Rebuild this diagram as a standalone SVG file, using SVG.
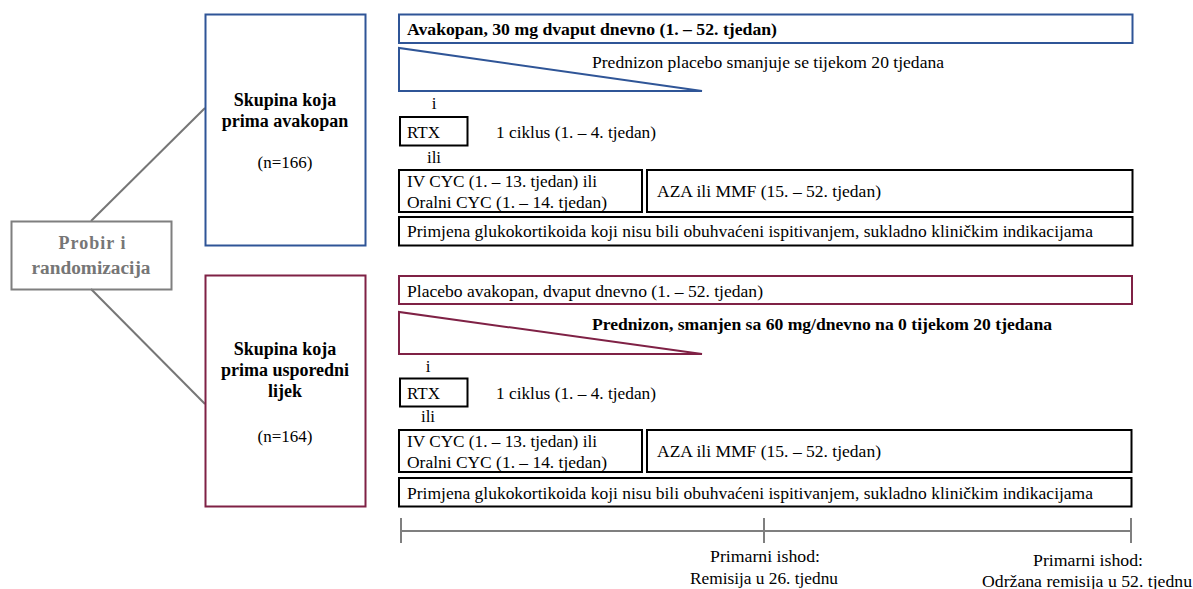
<svg xmlns="http://www.w3.org/2000/svg" width="1193" height="589" viewBox="0 0 1193 589" font-family="'Liberation Serif', 'DejaVu Serif', serif">
<style>
text{font-family:'Liberation Serif','DejaVu Serif',serif;font-size:17px;fill:#000}
.b{font-weight:bold}
.g{fill:#767676;font-weight:bold;font-size:18px}
.h{font-weight:bold;font-size:18px}
.c{text-anchor:middle}
.blue{fill:none;stroke:#2f5597;stroke-width:2}
.red{fill:none;stroke:#7f2145;stroke-width:2}
.blk{fill:none;stroke:#000;stroke-width:2}
.gr{fill:none;stroke:#7f7f7f;stroke-width:2}
.ln{fill:none;stroke:#767676;stroke-width:2}
</style>
<rect width="1193" height="589" fill="#fff"/>
<g id="connectors">
<line class="ln" x1="91" y1="221" x2="205" y2="108"/>
<line class="ln" x1="91" y1="289" x2="205" y2="404"/>
</g>
<g id="probir">
<rect class="gr" x="11.5" y="221.5" width="160" height="68"/>
<text class="g c" x="92" y="249" textLength="67" lengthAdjust="spacing">Probir  i</text>
<text class="g c" x="91" y="274" textLength="119" lengthAdjust="spacingAndGlyphs">randomizacija</text>
</g>
<g id="group-avakopan">
<rect class="blue" x="205.5" y="14.5" width="160" height="231"/>
<text class="h c" x="285" y="106">Skupina koja</text>
<text class="h c" x="285" y="127">prima avakopan</text>
<text class="c" x="285" y="168">(n=166)</text>
</g>
<g id="group-comparator">
<rect class="red" x="205.5" y="275.5" width="160" height="231"/>
<text class="h c" x="285" y="355">Skupina koja</text>
<text class="h c" x="285" y="376">prima usporedni</text>
<text class="h c" x="285" y="397">lijek</text>
<text class="c" x="285" y="442">(n=164)</text>
</g>
<g id="avakopan-dose">
<rect class="blue" x="399" y="14.5" width="733.5" height="28.5"/>
<text class="b" x="407" y="35" textLength="370" lengthAdjust="spacingAndGlyphs">Avakopan, 30 mg dvaput dnevno (1. – 52. tjedan)</text>
</g>
<g id="prednizon-placebo">
<polygon class="blue" points="399,48 399,91 702,91"/>
<text x="592" y="68" textLength="352" lengthAdjust="spacingAndGlyphs">Prednizon placebo smanjuje  se tijekom  20  tjedana</text>
</g>
<text class="c" x="434" y="109">i</text>
<g id="rtx-1">
<rect class="blk" x="400" y="117" width="67.5" height="28.5"/>
<text x="407" y="138">RTX</text>
<text x="496" y="138" textLength="160" lengthAdjust="spacingAndGlyphs">1 ciklus (1. – 4. tjedan)</text>
</g>
<text class="c" x="434" y="163">ili</text>
<g id="cyc-1">
<rect class="blk" x="399" y="170" width="243" height="42"/>
<text x="407" y="187" textLength="190" lengthAdjust="spacingAndGlyphs">IV CYC (1. – 13. tjedan) ili</text>
<text x="407" y="208" textLength="200" lengthAdjust="spacingAndGlyphs">Oralni  CYC (1. – 14. tjedan)</text>
</g>
<g id="aza-1">
<rect class="blk" x="647" y="170" width="485.5" height="42"/>
<text x="657" y="197" textLength="224" lengthAdjust="spacingAndGlyphs">AZA ili  MMF (15. – 52. tjedan)</text>
</g>
<g id="gc-1">
<rect class="blk" x="399" y="217" width="733.5" height="28.5"/>
<text x="407" y="237" textLength="686" lengthAdjust="spacingAndGlyphs">Primjena  glukokortikoida  koji nisu bili  obuhvaćeni ispitivanjem,  sukladno kliničkim  indikacijama</text>
</g>
<g id="placebo-dose">
<rect class="red" x="399" y="276" width="733" height="28"/>
<text x="407" y="297" textLength="356" lengthAdjust="spacingAndGlyphs">Placebo avakopan, dvaput dnevno (1. – 52. tjedan)</text>
</g>
<g id="prednizon">
<polygon class="red" points="399,312 399,354 702,354"/>
<text class="b" x="592" y="330" textLength="460" lengthAdjust="spacingAndGlyphs">Prednizon, smanjen sa 60 mg/dnevno na 0 tijekom 20 tjedana</text>
</g>
<text class="c" x="428" y="372">i</text>
<g id="rtx-2">
<rect class="blk" x="400" y="378.5" width="67.5" height="28"/>
<text x="407" y="399">RTX</text>
<text x="496" y="399" textLength="160" lengthAdjust="spacingAndGlyphs">1 ciklus (1. – 4. tjedan)</text>
</g>
<text class="c" x="428" y="422">ili</text>
<g id="cyc-2">
<rect class="blk" x="399" y="430" width="243" height="42"/>
<text x="407" y="447" textLength="190" lengthAdjust="spacingAndGlyphs">IV CYC (1. – 13. tjedan) ili</text>
<text x="407" y="468" textLength="200" lengthAdjust="spacingAndGlyphs">Oralni  CYC (1. – 14. tjedan)</text>
</g>
<g id="aza-2">
<rect class="blk" x="647" y="430" width="484.5" height="42"/>
<text x="657" y="457" textLength="224" lengthAdjust="spacingAndGlyphs">AZA ili  MMF (15. – 52. tjedan)</text>
</g>
<g id="gc-2">
<rect class="blk" x="399" y="478" width="732.5" height="28.5"/>
<text x="407" y="499" textLength="686" lengthAdjust="spacingAndGlyphs">Primjena  glukokortikoida  koji nisu bili  obuhvaćeni ispitivanjem,  sukladno kliničkim  indikacijama</text>
</g>
<g id="timeline">
<line class="gr" x1="401" y1="531" x2="1131" y2="531" stroke-width="1.5"/>
<line class="gr" x1="401" y1="518" x2="401" y2="543"/>
<line class="gr" x1="764" y1="518" x2="764" y2="543"/>
<line class="gr" x1="1131" y1="518" x2="1131" y2="543"/>
<text class="c" x="765" y="562" textLength="110" lengthAdjust="spacingAndGlyphs">Primarni  ishod:</text>
<text class="c" x="764" y="584" textLength="148" lengthAdjust="spacingAndGlyphs">Remisija  u 26. tjednu</text>
<text class="c" x="1088" y="566" textLength="110" lengthAdjust="spacingAndGlyphs">Primarni  ishod:</text>
<text class="c" x="1087" y="587" textLength="210" lengthAdjust="spacingAndGlyphs">Održana remisija  u 52. tjednu</text>
</g>
</svg>
